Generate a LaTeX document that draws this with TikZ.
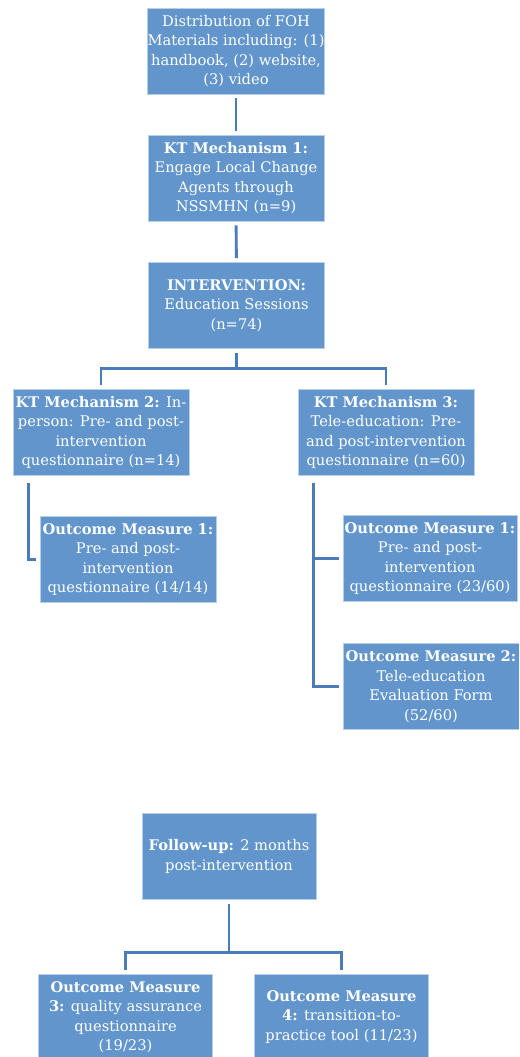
\documentclass[tikz,border=0pt]{standalone}
\usepackage{fontspec}
\setmainfont{DejaVu Serif}
\definecolor{boxblue}{RGB}{97,149,204}
\definecolor{lineblue}{RGB}{74,124,185}
\begin{document}
\begin{tikzpicture}[x=0.75pt,y=-0.75pt,
  box/.style={fill=boxblue,draw=boxblue!45!white,line width=0.6pt,text=white,
    align=center,inner sep=0pt,minimum width=132pt,minimum height=64.5pt,
    font=\fontsize{11}{14.6}\selectfont},
  conn/.style={draw=lineblue,line width=2.2pt,shorten <=3pt,shorten >=3pt}]
  \useasboundingbox (0,0) rectangle (519,1057);
  \clip (0,0) rectangle (519,1057);
  % top chain
  \node[box] (dist) at (236,51) {Distribution of FOH\\Materials including: (1)\\handbook, (2) website,\\(3) video};
  \node[box] (kt1) at (236,178) {\textbf{KT Mechanism 1:}\\Engage Local Change\\Agents through\\NSSMHN (n=9)};
  \node[box] (interv) at (236.5,305.5) {\textbf{INTERVENTION:}\\Education Sessions\\(n=74)};
  \draw[conn] (dist) -- (kt1);
  \draw[conn] (kt1) -- (interv);
  % the two mechanisms
  \node[box] (kt2) at (101,432.5) {\textbf{KT Mechanism 2:} In-\\person: Pre- and post-\\intervention\\questionnaire (n=14)};
  \node[box] (kt3) at (386,432.5) {\textbf{KT Mechanism 3:}\\Tele-education: Pre-\\and post-intervention\\questionnaire (n=60)};
  \coordinate (split1) at ([yshift=-15pt]interv.south);
  \draw[conn] (interv.south) -- (split1) -| (kt2.north);
  \draw[conn,shorten <=0pt] (split1) -| (kt3.north);
  % outcomes of the education sessions
  \node[box] (om1a) at (128,559.5) {\textbf{Outcome Measure 1:}\\Pre- and post-\\intervention\\questionnaire (14/14)};
  \node[box,minimum width=130.5pt] (om1b) at (430,558.5) {\textbf{Outcome Measure 1:}\\Pre- and post-\\intervention\\questionnaire (23/60)};
  \node[box] (om2) at (431,686.5) {\textbf{Outcome Measure 2:}\\Tele-education\\Evaluation Form\\(52/60)};
  \draw[conn] (kt2.south west) ++(16,3) |- (om1a.west);
  \draw[conn] (kt3.south west) ++(16,3) |- (om1b.west);
  \draw[conn] (kt3.south west) ++(16,3) |- (om2.west);
  % follow-up
  \node[box,minimum width=130.5pt] (fu) at (229,856.5) {\textbf{Follow-up:} 2 months\\post-intervention};
  \node[box,minimum width=131pt] (om3) at (125.5,1017) {\textbf{Outcome Measure}\\\textbf{3:} quality assurance\\questionnaire\\(19/23)};
  \node[box,minimum width=131pt] (om4) at (341.5,1017) {\textbf{Outcome Measure}\\\textbf{4:} transition-to-\\practice tool (11/23)};
  \coordinate (split2) at ([yshift=-39.75pt]fu.south);
  \draw[conn] (fu.south) -- (split2) -| (om3.north);
  \draw[conn,shorten <=0pt] (split2) -| (om4.north);
\end{tikzpicture}
\end{document}
